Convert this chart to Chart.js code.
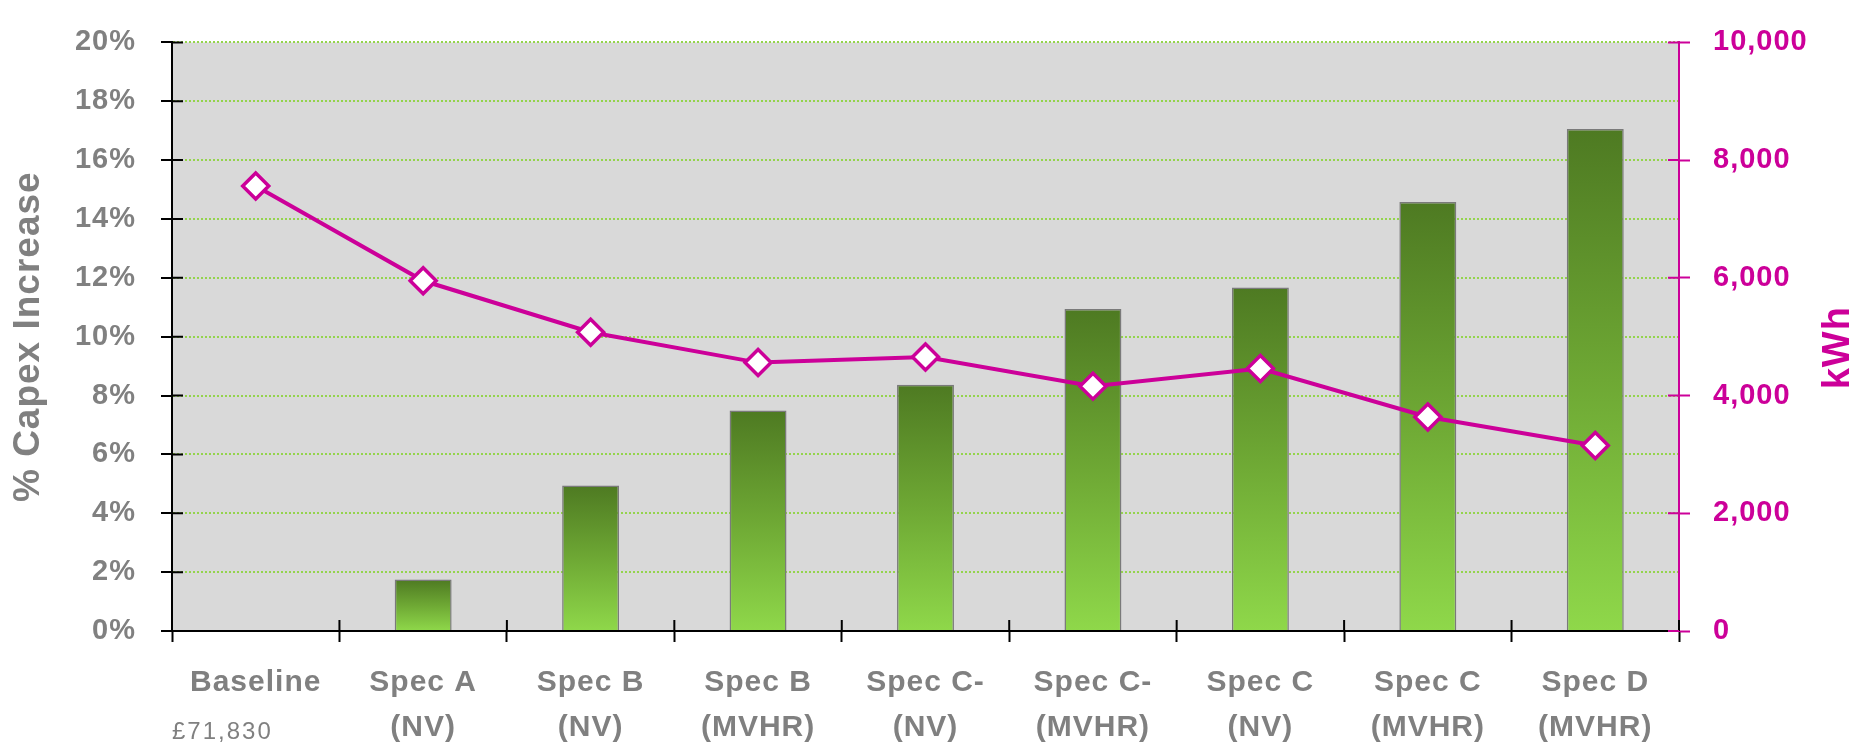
<!DOCTYPE html>
<html>
<head>
<meta charset="utf-8">
<script src="https://cdn.jsdelivr.net/npm/chart.js@4/dist/chart.umd.min.js"></script>
<style>
  html, body { margin: 0; padding: 0; background: #ffffff; }
  #wrap { width: 1864px; height: 745px; }
</style>
</head>
<body>
<div id="wrap"><canvas id="c" width="1864" height="745"></canvas></div>
<script>
// ---- data ----
const categories = [
  ['Baseline'],
  ['Spec A', '(NV)'],
  ['Spec B', '(NV)'],
  ['Spec B', '(MVHR)'],
  ['Spec C-', '(NV)'],
  ['Spec C-', '(MVHR)'],
  ['Spec C', '(NV)'],
  ['Spec C', '(MVHR)'],
  ['Spec D', '(MVHR)']
];
const capexIncrease = [0, 1.75, 4.94, 7.49, 8.37, 10.94, 11.67, 14.58, 17.06];
const energyKWh = [7560, 5950, 5075, 4560, 4655, 4160, 4460, 3635, 3150];
const baselineCost = '£71,830';
const leftAxisTitle = '% Capex Increase';
const rightAxisTitle = 'kWh';

// ---- styles ----
const MAGENTA = '#cc0099';
const GREY_TEXT = '#808080';
const FONT = "'Liberation Sans', Arial, sans-serif";

function barGradient(c) {
  const chart = c.chart;
  const y = chart.scales && chart.scales.y;
  if (!chart.chartArea || !y || c.type !== 'data') return '#6fa534';
  const top = y.getPixelForValue(c.raw);
  const bot = y.getPixelForValue(0);
  if (!isFinite(top) || !isFinite(bot) || top === bot) return '#6fa534';
  const g = chart.ctx.createLinearGradient(0, top, 0, bot);
  g.addColorStop(0, '#4e7a22');
  g.addColorStop(0.5, '#6ea834');
  g.addColorStop(1, '#8fd84a');
  return g;
}

const plotBg = {
  id: 'plotBg',
  beforeDraw(chart) {
    const a = chart.chartArea, ctx = chart.ctx;
    ctx.save();
    ctx.fillStyle = '#d9d9d9';
    ctx.fillRect(a.left, a.top, a.right - a.left, a.bottom - a.top);
    ctx.restore();
    ctx.letterSpacing = '1px';
  },
  afterDraw(chart) {
    const ctx = chart.ctx;
    const x = chart.scales.x, y = chart.scales.y, y1 = chart.scales.y1;
    const a = chart.chartArea;
    ctx.save();
    ctx.letterSpacing = '0px';
    // inner tick marks (crossing axes)
    ctx.lineWidth = 2;
    ctx.strokeStyle = '#000';
    ctx.beginPath();
    for (let i = 0; i <= categories.length; i++) {
      const px = x.getPixelForValue(i - 0.5);
      ctx.moveTo(px, a.bottom);
      ctx.lineTo(px, a.bottom - 11);
    }
    y.ticks.forEach(t => {
      const py = y.getPixelForValue(t.value);
      ctx.moveTo(a.left, py);
      ctx.lineTo(a.left + 11, py);
    });
    ctx.stroke();
    ctx.strokeStyle = MAGENTA;
    ctx.beginPath();
    y1.ticks.forEach(t => {
      const py = y1.getPixelForValue(t.value);
      ctx.moveTo(a.right - 11, py);
      ctx.lineTo(a.right, py);
    });
    ctx.stroke();

    // baseline cost note under first category
    ctx.letterSpacing = '2px';
    ctx.fillStyle = GREY_TEXT;
    ctx.font = '24px ' + FONT;
    ctx.textAlign = 'left';
    ctx.textBaseline = 'alphabetic';
    ctx.fillText(baselineCost, a.left, x.bottom - 6);

    // right axis title
    ctx.letterSpacing = '1px';
    ctx.translate(y1.right - 25, (a.top + a.bottom) / 2 + 11);
    ctx.rotate(-Math.PI / 2);
    ctx.fillStyle = MAGENTA;
    ctx.font = 'bold 38px ' + FONT;
    ctx.textAlign = 'center';
    ctx.textBaseline = 'middle';
    ctx.fillText(rightAxisTitle, 0, 0);
    ctx.restore();
    ctx.letterSpacing = '0px';
  }
};

new Chart(document.getElementById('c'), {
  data: {
    labels: categories,
    datasets: [
      {
        type: 'line',
        label: 'kWh',
        data: energyKWh,
        yAxisID: 'y1',
        order: 0,
        borderColor: MAGENTA,
        borderWidth: 4,
        tension: 0,
        pointStyle: 'rectRot',
        pointRadius: 13,
        pointBorderWidth: 3.5,
        pointBackgroundColor: '#ffffff',
        pointBorderColor: MAGENTA,
        fill: false
      },
      {
        type: 'bar',
        label: '% Capex Increase',
        data: capexIncrease,
        yAxisID: 'y',
        order: 1,
        backgroundColor: barGradient,
        borderColor: '#7a7a7a',
        borderWidth: c => (c.raw === 0 ? 0 : 1.5),
        categoryPercentage: 1,
        barPercentage: 0.34
      }
    ]
  },
  options: {
    responsive: false,
    animation: false,
    layout: { padding: { top: 24, left: 0, right: 0, bottom: 0 } },
    plugins: {
      legend: { display: false },
      tooltip: { enabled: false }
    },
    scales: {
      x: {
        offset: true,
        border: { display: true, color: '#000', width: 2 },
        grid: {
          offset: true,
          drawOnChartArea: false,
          drawTicks: true,
          tickLength: 11,
          tickColor: '#000',
          tickWidth: 2
        },
        ticks: {
          color: GREY_TEXT,
          padding: 18,
          maxRotation: 0,
          autoSkip: false,
          font: { family: FONT, size: 30, weight: 'bold', lineHeight: 1.5 }
        },
        afterFit(s) { s.height = 114; }
      },
      y: {
        position: 'left',
        min: 0,
        max: 20,
        border: { display: true, color: '#000', width: 2, dash: [2, 2] },
        grid: {
          color: '#94d44c',
          lineWidth: 2,
          tickBorderDash: [],
          tickColor: '#000',
          tickWidth: 2,
          tickLength: 11
        },
        ticks: {
          stepSize: 2,
          color: GREY_TEXT,
          padding: 25,
          font: { family: FONT, size: 29, weight: 'bold' },
          callback: v => v + '%'
        },
        title: {
          display: true,
          text: leftAxisTitle,
          color: GREY_TEXT,
          font: { family: FONT, size: 37, weight: 'bold', lineHeight: 1.2 },
          padding: { top: 7, bottom: 0 }
        },
        afterFit(s) { s.width = 172; }
      },
      y1: {
        position: 'right',
        min: 0,
        max: 10000,
        border: { display: true, color: MAGENTA, width: 2 },
        grid: {
          drawOnChartArea: false,
          tickColor: MAGENTA,
          tickWidth: 2,
          tickLength: 11
        },
        ticks: {
          stepSize: 2000,
          color: MAGENTA,
          padding: 23,
          font: { family: FONT, size: 29, weight: 'bold' },
          callback: v => v.toLocaleString('en-US')
        },
        afterFit(s) { s.width = 185; }
      }
    }
  },
  plugins: [plotBg]
});
</script>
</body>
</html>
